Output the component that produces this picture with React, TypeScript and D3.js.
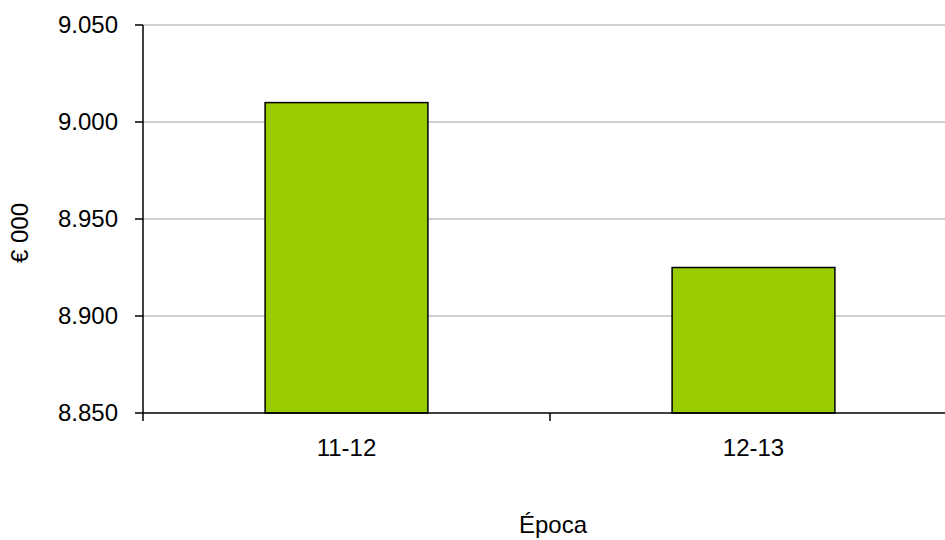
import React from "react";
import * as d3 from "d3";

const categories = ["11-12", "12-13"];
const values = [9.01, 8.925];
const yTicks = [8.85, 8.9, 8.95, 9.0, 9.05];

const W = 945;
const H = 540;
const left = 143;
const right = 957;
const top = 25;
const bottom = 413;

export default function App() {
  const x = d3.scaleBand<string>().domain(categories).range([left, right]).paddingInner(0.6).paddingOuter(0.3);
  const band = d3.scaleBand<string>().domain(categories).range([left, right]);
  const y = d3.scaleLinear().domain([8.85, 9.05]).range([bottom, top]);
  const fmt = (v: number) => d3.format(".3f")(v);
  const font = "'Liberation Sans', Arial, sans-serif";
  const fs = 24;
  return (
    <svg width={W} height={H} style={{ position: "absolute", left: 0, top: 0, background: "#fff" }}>
      {yTicks.map((t) => (
        <g key={t}>
          {t > 8.85 && <line x1={left} x2={W} y1={y(t)} y2={y(t)} stroke="#c0c0c0" strokeWidth={1.5} />}
          <line x1={135} x2={left} y1={y(t)} y2={y(t)} stroke="#000" strokeWidth={1.5} />
          <text x={118} y={y(t)} dy="0.35em" textAnchor="end" fontFamily={font} fontSize={fs} fill="#000">
            {fmt(t)}
          </text>
        </g>
      ))}
      {categories.map((c, i) => (
        <rect
          key={c}
          x={x(c)!}
          y={y(values[i])}
          width={x.bandwidth()}
          height={bottom - y(values[i])}
          fill="#99cc00"
          stroke="#000"
          strokeWidth={1.5}
        />
      ))}
      <line x1={left} x2={left} y1={top} y2={bottom} stroke="#000" strokeWidth={1.5} />
      <line x1={left} x2={W} y1={bottom} y2={bottom} stroke="#000" strokeWidth={1.5} />
      {[...categories.map((c) => band(c)!), right].map((px, i) => (
        <line key={i} x1={px} x2={px} y1={bottom} y2={bottom + 8} stroke="#000" strokeWidth={1.5} />
      ))}
      {categories.map((c) => (
        <text key={c} x={band(c)! + band.bandwidth() / 2} y={448} dy="0.35em" textAnchor="middle" fontFamily={font} fontSize={fs} fill="#000">
          {c}
        </text>
      ))}
      <text x={553} y={525} dy="0.35em" textAnchor="middle" fontFamily={font} fontSize={fs} fill="#000">
        Época
      </text>
      <text transform="translate(20,233) rotate(-90)" dy="0.35em" textAnchor="middle" fontFamily={font} fontSize={fs} fill="#000">
        € 000
      </text>
    </svg>
  );
}
